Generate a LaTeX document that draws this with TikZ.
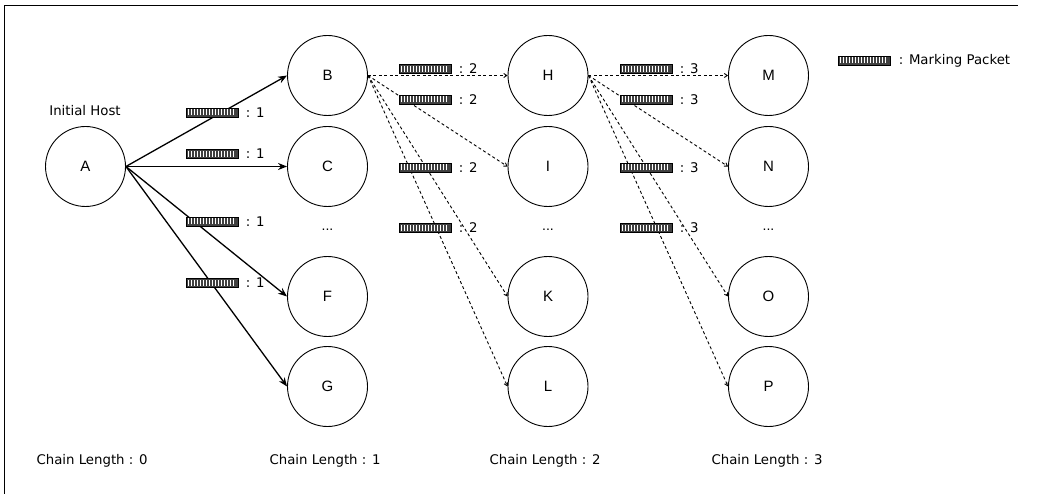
\documentclass[tikz,border=0pt]{standalone}
\usepackage{fontspec}
\setmainfont{DejaVu Sans}
\newfontfamily\nodefont{Liberation Sans}
\usetikzlibrary{arrows.meta}
\begin{document}
\begin{tikzpicture}[x=1pt,y=-1pt,
  host/.style={circle,draw,line width=0.9pt,minimum size=80pt,inner sep=0pt,font=\nodefont\fontsize{15}{15}\selectfont},
  lbl/.style={inner sep=0pt,font=\fontsize{13.3}{14}\selectfont},
  dots/.style={inner sep=0pt,font=\nodefont\fontsize{14}{14}\selectfont},
  packet/.style={draw,line width=0.7pt,fill=black!75,minimum width=52pt,minimum height=9pt,inner sep=0pt,anchor=west,
    path picture={\foreach \i in {2.5,5.5,...,50}{\draw[white,line width=1.1pt]
      ([xshift=\i pt,yshift=1.5pt]path picture bounding box.south west) -- ++(0,6pt);}}},
  solidarrow/.style={line width=1.3pt,-{Stealth[length=9pt,width=7pt]}},
  dasharrow/.style={line width=0.9pt,dash pattern=on 3pt off 2.5pt,-{Straight Barb[length=3pt,width=4pt]}}
]
\useasboundingbox (0,0) rectangle (1038,494);
\draw[line width=0.9pt] (4,494) -- (4,5) -- (1018,5);
% hosts
\node[host] (A) at (85.5,166.5) {A};
\node[host] (B) at (327.5,75.5) {B};
\node[host] (C) at (327.5,166.5) {C};
\node[host] (F) at (327.5,296.5) {F};
\node[host] (G) at (327.5,386.5) {G};
\node[host] (H) at (548,75.5) {H};
\node[host] (I) at (548,166.5) {I};
\node[host] (K) at (548,296.5) {K};
\node[host] (L) at (548,386.5) {L};
\node[host] (M) at (768.5,75.5) {M};
\node[host] (N) at (768.5,166.5) {N};
\node[host] (O) at (768.5,296.5) {O};
\node[host] (P) at (768.5,386.5) {P};
\node[dots] (d1) at (327.5,230) {...};
\node[dots] (d2) at (548,230) {...};
\node[dots] (d3) at (768.5,230) {...};
% labels
\node[lbl] (init) at (85,111) {Initial Host};
\node[lbl] (cl0) at (92,461) {Chain Length : 0};
\node[lbl] (cl1) at (325,461) {Chain Length : 1};
\node[lbl] (cl2) at (545,461) {Chain Length : 2};
\node[lbl] (cl3) at (767,461) {Chain Length : 3};
% edges
\foreach \t in {B,C,F,G}{\draw[solidarrow] (A.east) -- (\t.west);}
\foreach \t in {H,I,K,L}{\draw[dasharrow] (B.east) -- (\t.west);}
\foreach \t in {M,N,O,P}{\draw[dasharrow] (H.east) -- (\t.west);}
% packets
\foreach \n/\x/\y/\v in {a1/186/112.5/1,a2/186/154/1,a3/186/221.5/1,a4/186/282.5/1,
  b1/399/69/2,b2/399/99.5/2,b3/399/167.5/2,b4/399/228/2,
  c1/620/69/3,c2/620/99.5/3,c3/620/167.5/3,c4/620/228/3}{
  \node[packet] (p\n) at (\x,\y) {};
  \node[lbl,anchor=west] (t\n) at ([xshift=7pt]p\n.east) {: \v};
}
\node[packet] (leg) at (838,60.5) {};
\node[lbl,anchor=west] (legt) at ([xshift=8pt]leg.east) {: Marking Packet};
\end{tikzpicture}
\end{document}
